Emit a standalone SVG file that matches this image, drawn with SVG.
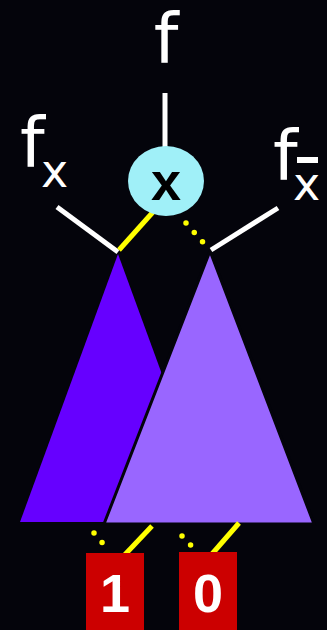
<svg xmlns="http://www.w3.org/2000/svg" width="327" height="630" viewBox="0 0 327 630">
<style>
.lbl{font-family:"DejaVu Sans",sans-serif;fill:#fff}
.w{stroke:#fff;stroke-width:5;fill:none}
.y{stroke:#ffff00;stroke-width:5;fill:none}
.yd{stroke:#ffff00;stroke-width:5.5;fill:none;stroke-linecap:round;stroke-dasharray:0 12.5}
.term{fill:#cc0000}
.tt{font-family:"Liberation Sans",Arial,sans-serif;font-weight:bold;font-size:54px;fill:#fff;text-anchor:middle}
</style>
<rect width="327" height="630" fill="#04040b"/>
<g id="tree-high">
<polygon points="118,254 20,522 216,522" fill="#6600ff"/>
</g>
<g id="tree-low">
<polygon points="210,251 104,524 314,524" fill="#9966ff" stroke="#04040b" stroke-width="3" stroke-linejoin="miter"/>
</g>
<g id="connectors">
<line class="w" x1="165" y1="93" x2="165" y2="148"/>
<line class="w" x1="57" y1="207" x2="118" y2="252"/>
<line class="w" x1="278" y1="208" x2="211" y2="250"/>
<line class="y" x1="153" y1="212" x2="119" y2="250"/>
<line class="yd" x1="186" y1="223" x2="208" y2="248"/>
<line class="y" x1="152" y1="526" x2="117" y2="563"/>
<line class="yd" x1="94" y1="533" x2="110" y2="552"/>
<line class="y" x1="239" y1="523" x2="205" y2="562"/>
<line class="yd" x1="182" y1="536" x2="199" y2="554"/>
</g>
<g id="label-f"><text class="lbl" x="166" y="63" font-size="70" text-anchor="middle">f</text></g>
<g id="label-fx"><text class="lbl" x="20" y="167" font-size="70">f</text><text class="lbl" x="41" y="187" font-size="46">x</text></g>
<g id="label-fxbar"><text class="lbl" x="273" y="180" font-size="70">f</text><text class="lbl" x="293" y="200" font-size="46">x</text><rect x="297" y="157" width="21" height="6" fill="#fff"/></g>
<g id="node-x">
<ellipse cx="166" cy="181" rx="38" ry="35" fill="#a0f0f8"/>
<text x="166" y="200" font-family="Liberation Sans,Arial,sans-serif" font-weight="bold" font-size="54" text-anchor="middle" fill="#000">x</text>
</g>
<g id="terminal-1"><rect class="term" x="86" y="553" width="58" height="77"/><text class="tt" x="115" y="612">1</text></g>
<g id="terminal-0"><rect class="term" x="179" y="552" width="58" height="78"/><text class="tt" x="208" y="612">0</text></g>
</svg>
